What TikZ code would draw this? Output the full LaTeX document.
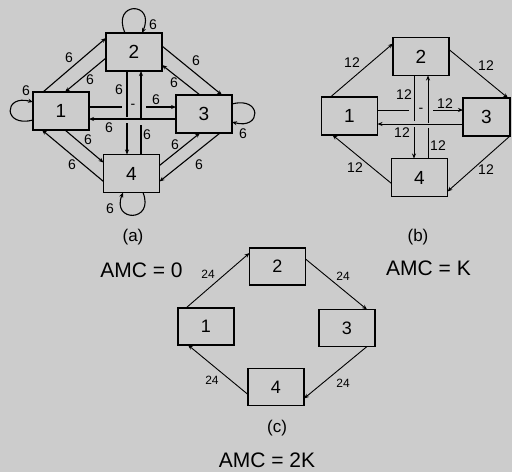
\documentclass[tikz,border=0pt]{standalone}
\usepackage{fontspec}
\setmainfont{Liberation Sans}
\usetikzlibrary{arrows.meta, positioning, calc}
\definecolor{PanelGray}{rgb}{0.80, 0.80, 0.80}

\begin{document}
\begin{tikzpicture}[>={Stealth[length=5pt, width=4pt]}, x=1pt, y=-1pt,
    box/.style={draw, line width=1.6pt, minimum width=56pt, minimum height=38pt,
        inner sep=0pt, outer sep=0pt, font=\fontsize{19}{19}\selectfont},
    cbox/.style={box, minimum height=37pt, font=\fontsize{18}{18}\selectfont},
    arr/.style={->, line width=1.1pt},
    thinarr/.style={->, line width=0.9pt},
    lbl/.style={inner sep=0pt, font=\fontsize{14}{14}\selectfont},
    clbl/.style={inner sep=0pt, font=\fontsize{12}{12}\selectfont},
    captxt/.style={inner sep=0pt, font=\fontsize{17}{17}\selectfont},
    amc/.style={inner sep=0pt, font=\fontsize{21}{21}\selectfont}]
    \useasboundingbox (0,0) rectangle (512,472);
    \fill[PanelGray] (0,0) rectangle (512,472);

    % Panel (a): all links
    \node[box] (a1) at (61,111) {1};
    \node[box] (a2) at (134,52) {2};
    \node[box] (a3) at (204,114) {3};
    \node[box] (a4) at (131.5,173.5) {4};
    \draw[arr] ($(a1.north west)+(10,0)$) -- ($(a2.north west)+(0,5)$);
    \draw[arr] ($(a2.south west)+(0,-13)$) -- ($(a1.north west)+(32,0)$);
    \draw[arr] ($(a2.north east)+(0,13)$) -- ($(a3.north east)+(-10,0)$);
    \draw[arr] ($(a3.north west)+(24,0)$) -- ($(a2.south east)+(0,-6)$);
    \draw[arr] ($(a1.south west)+(32,0)$) -- ($(a4.north west)+(0,8)$);
    \draw[arr] ($(a4.south west)+(0,-11)$) -- ($(a1.south west)+(9,0)$);
    \draw[arr] ($(a4.north east)+(0,11)$) -- ($(a3.south west)+(24,0)$);
    \draw[arr] ($(a3.south east)+(-12,0)$) -- ($(a4.south east)+(0,-11)$);
    % crossing links, broken where they pass under
    \coordinate (ga1) at (127,117); \coordinate (ga2) at (127,123);
    \coordinate (ga3) at (141,125); \coordinate (ga4) at (141,119);
    \coordinate (ga5) at (122,107); \coordinate (ga6) at (146,107);
    \draw[line width=1.1pt] ($(a2.south west)+(21,0)$) -- (ga1);
    \draw[arr] (ga2) -- ($(a4.north west)+(23.5,0)$);
    \draw[line width=1.1pt] ($(a4.north west)+(37.5,0)$) -- (ga3);
    \draw[arr] (ga4) -- ($(a2.south west)+(35,0)$);
    \draw[line width=1.1pt] ($(a1.north east)+(0,15)$) -- (ga5);
    \draw[arr] (ga6) -- ($(a3.north west)+(0,12)$);
    \draw[arr] ($(a3.north west)+(0,24)$) -- ($(a1.north east)+(0,27)$);
    % self loops
    \draw[arr] ($(a2.north west)+(19,0)$) .. controls +(-14,-32) and +(14,-32) .. ($(a2.north west)+(36,0)$);
    \draw[arr] ($(a1.south west)+(0,-10)$) .. controls +(-30,8) and +(-30,-8) .. ($(a1.north west)+(0,10)$);
    \draw[arr] ($(a3.north east)+(0,9)$) .. controls +(30,-8) and +(30,8) .. ($(a3.south east)+(0,-11)$);
    \draw[arr] ($(a4.south west)+(39.5,0)$) .. controls +(12,30) and +(-12,30) .. ($(a4.south west)+(19.5,0)$);
    \foreach \x/\y [count=\i] in {153/25, 26/91, 243/134, 110/209, 69/58, 90/80, 196/61, 174/83,
        88/140, 72/165, 175/145, 199/165, 119/90, 147/135, 156/100, 109/128} {
        \node[lbl] (la\i) at (\x,\y) {6};
    }
    \node[lbl] (dasha) at (133,106) {-};
    \node[captxt] (capa) at (133,237) {(a)};

    % Panel (b): AMC = K
    \node[box] (b1) at (349.5,116) {1};
    \node[box] (b2) at (421,56.5) {2};
    \node[box, minimum width=47pt] (b3) at (486.5,117) {3};
    \node[box] (b4) at (419.5,177.5) {4};
    \draw[thinarr] ($(b1.north west)+(9,0)$) -- ($(b2.north west)+(0,6)$);
    \draw[thinarr] ($(b2.north east)+(0,12)$) -- ($(b3.north east)+(-2,0)$);
    \draw[thinarr] (b3.south east) -- ($(b4.south east)+(0,-5)$);
    \draw[thinarr] ($(b4.south west)+(0,-13)$) -- ($(b1.south west)+(11,0)$);
    \coordinate (gb1) at (414,121); \coordinate (gb2) at (414,127);
    \coordinate (gb3) at (428,128); \coordinate (gb4) at (428,123);
    \coordinate (gb5) at (409,110); \coordinate (gb6) at (433,110);
    \draw[line width=0.9pt] ($(b2.south west)+(21,0)$) -- (gb1);
    \draw[thinarr] (gb2) -- ($(b4.north west)+(22.5,0)$);
    \draw[line width=0.9pt] ($(b4.north west)+(36.5,0)$) -- (gb3);
    \draw[thinarr] (gb4) -- ($(b2.south west)+(35,0)$);
    \draw[line width=0.9pt] ($(b1.north east)+(0,13)$) -- (gb5);
    \draw[thinarr] (gb6) -- ($(b3.north west)+(0,12)$);
    \draw[thinarr] ($(b3.north west)+(0,26)$) -- ($(b1.north east)+(0,27)$);
    \foreach \x/\y [count=\i] in {352/63, 486/66, 486/170, 355/168, 404/95, 438/146, 445/104, 402/133} {
        \node[lbl] (lb\i) at (\x,\y) {12};
    }
    \node[lbl] (dashb) at (421,110) {-};
    \node[captxt] (capb) at (418,237) {(b)};
    \node[amc] (amcb) at (428.5,268) {AMC = K};

    % Panel (c): AMC = 2K
    \node[cbox] (c1) at (206,326.5) {1};
    \node[cbox] (c2) at (277.5,266.5) {2};
    \node[cbox] (c3) at (347,328) {3};
    \node[cbox] (c4) at (276,387) {4};
    \draw[thinarr] ($(c1.north west)+(8,0)$) -- ($(c2.north west)+(0,5)$);
    \draw[thinarr] ($(c2.north east)+(0,11)$) -- ($(c3.north east)+(-8,0)$);
    \draw[thinarr] ($(c3.south east)+(-8,0)$) -- ($(c4.south east)+(0,-7)$);
    \draw[thinarr] ($(c4.south west)+(0,-11)$) -- ($(c1.south west)+(10,0)$);
    \foreach \x/\y [count=\i] in {208/274, 343/276, 343/383, 212/380} {
        \node[clbl] (lc\i) at (\x,\y) {24};
    }
    \node[captxt] (capc) at (277,428) {(c)};
    \node[amc] (amca) at (141.5,270) {AMC = 0};
    \node[amc] (amcc) at (267,460) {AMC = 2K};
\end{tikzpicture}
\end{document}
